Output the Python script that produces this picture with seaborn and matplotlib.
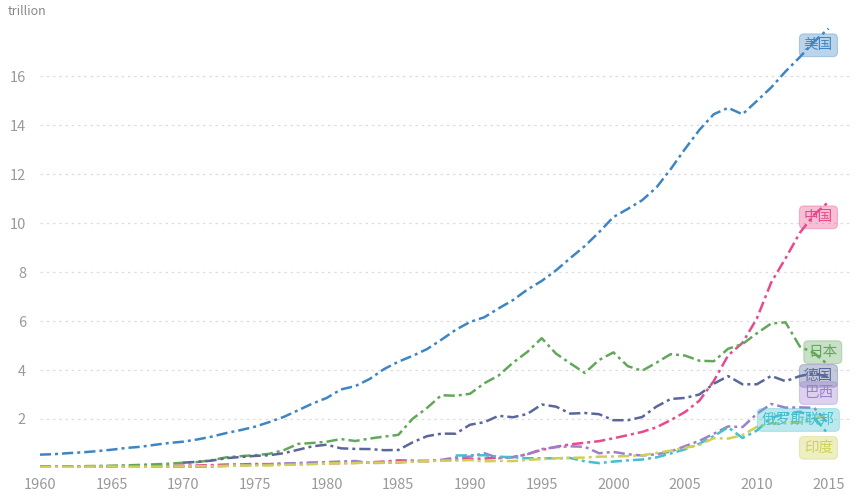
import numpy as np
import pandas as pd
import matplotlib
matplotlib.use("Agg")
import matplotlib.pyplot as plt
import seaborn as sns

# GDP, current US$ (trillion)
years = list(range(1960, 2016))

usa = [0.543, 0.563, 0.605, 0.638, 0.686, 0.744, 0.815, 0.862, 0.943, 1.019,
       1.073, 1.165, 1.280, 1.425, 1.545, 1.684, 1.873, 2.082, 2.352, 2.627,
       2.857, 3.207, 3.343, 3.634, 4.037, 4.339, 4.580, 4.855, 5.236, 5.642,
       5.963, 6.158, 6.520, 6.859, 7.287, 7.640, 8.073, 8.578, 9.063, 9.631,
       10.252, 10.582, 10.936, 11.458, 12.214, 13.037, 13.815, 14.452, 14.713, 14.449,
       14.992, 15.543, 16.197, 16.785, 17.420, 17.950]

china = [0.060, 0.050, 0.047, 0.051, 0.060, 0.070, 0.077, 0.073, 0.071, 0.080,
         0.093, 0.100, 0.114, 0.139, 0.144, 0.163, 0.154, 0.175, 0.150, 0.178,
         0.191, 0.196, 0.205, 0.230, 0.260, 0.309, 0.301, 0.273, 0.312, 0.348,
         0.361, 0.383, 0.427, 0.445, 0.564, 0.735, 0.864, 0.962, 1.029, 1.094,
         1.211, 1.339, 1.471, 1.660, 1.955, 2.286, 2.752, 3.552, 4.598, 5.110,
         6.101, 7.573, 8.561, 9.607, 10.350, 10.870]

japan = [0.044, 0.054, 0.061, 0.070, 0.082, 0.091, 0.106, 0.124, 0.147, 0.172,
         0.213, 0.240, 0.318, 0.432, 0.480, 0.520, 0.577, 0.722, 0.980, 1.020,
         1.070, 1.180, 1.100, 1.200, 1.280, 1.350, 2.010, 2.450, 2.970, 2.950,
         3.030, 3.460, 3.780, 4.300, 4.740, 5.300, 4.670, 4.270, 3.880, 4.410,
         4.720, 4.160, 3.970, 4.300, 4.650, 4.590, 4.380, 4.360, 4.870, 5.060,
         5.500, 5.900, 5.950, 4.960, 4.690, 4.200]

germany = [np.nan] * 10 + [
           0.216, 0.250, 0.300, 0.399, 0.446, 0.491, 0.519, 0.600, 0.740, 0.882,
           0.950, 0.801, 0.777, 0.771, 0.726, 0.732, 1.046, 1.298, 1.401, 1.398,
           1.765, 1.869, 2.131, 2.071, 2.206, 2.592, 2.503, 2.219, 2.244, 2.197,
           1.950, 1.950, 2.079, 2.506, 2.819, 2.861, 3.003, 3.440, 3.752, 3.418,
           3.417, 3.758, 3.544, 3.753, 3.870, 3.700]

brazil = [0.015, 0.015, 0.020, 0.023, 0.021, 0.022, 0.028, 0.031, 0.033, 0.037,
          0.042, 0.049, 0.058, 0.083, 0.105, 0.123, 0.152, 0.176, 0.201, 0.224,
          0.235, 0.263, 0.282, 0.203, 0.209, 0.223, 0.268, 0.294, 0.331, 0.425,
          0.462, 0.603, 0.401, 0.437, 0.558, 0.769, 0.850, 0.883, 0.864, 0.600,
          0.655, 0.559, 0.508, 0.558, 0.669, 0.892, 1.108, 1.397, 1.696, 1.667,
          2.209, 2.616, 2.465, 2.473, 2.456, 1.800]

russia = [np.nan] * 29 + [
          0.507, 0.517, 0.518, 0.460, 0.435, 0.395, 0.396, 0.392, 0.405, 0.271,
          0.196, 0.260, 0.307, 0.345, 0.430, 0.591, 0.764, 0.990, 1.300, 1.661,
          1.223, 1.525, 2.052, 2.210, 2.297, 2.064, 1.366]

india = [0.037, 0.039, 0.042, 0.048, 0.056, 0.059, 0.046, 0.050, 0.053, 0.058,
         0.062, 0.067, 0.071, 0.085, 0.100, 0.098, 0.103, 0.122, 0.137, 0.153,
         0.186, 0.194, 0.201, 0.219, 0.212, 0.233, 0.248, 0.280, 0.296, 0.296,
         0.321, 0.271, 0.288, 0.279, 0.328, 0.360, 0.393, 0.415, 0.421, 0.459,
         0.468, 0.485, 0.515, 0.608, 0.709, 0.820, 0.940, 1.217, 1.199, 1.341,
         1.676, 1.823, 1.828, 1.857, 2.039, 2.100]

countries = ["美国", "中国", "日本", "德国", "巴西", "俄罗斯联邦", "印度"]
series = [usa, china, japan, germany, brazil, russia, india]
colors = ["#3e86c3", "#e84a8c", "#62a85a", "#5a679a", "#9d7fcc", "#43c0cf", "#d0d055"]

# end-of-line label anchors (year, value)
label_x = [2014.3, 2014.3, 2014.6, 2014.3, 2014.3, 2012.9, 2014.3]
label_y = [17.27, 10.24, 4.73, 3.76, 3.06, 1.96, 0.82]

rows = []
for name, vals in zip(countries, series):
    for yr, v in zip(years, vals):
        if not np.isnan(v):
            rows.append({"year": yr, "gdp": v, "country": name})
df = pd.DataFrame(rows)

sns.set_style("white")
plt.rcParams["font.family"] = ["Noto Sans CJK SC", "DejaVu Sans"]

fig = plt.figure(figsize=(8.65, 5.01), dpi=100)
ax = fig.add_axes([0.046, 0.066, 0.94, 0.894])

palette = dict(zip(countries, colors))
dash = (4.5, 1.6, 1.2, 1.6)
sns.lineplot(data=df, x="year", y="gdp", hue="country", style="country",
             hue_order=countries, style_order=countries, palette=palette,
             dashes={c: dash for c in countries}, linewidth=1.8,
             legend=False, ax=ax)

ax.set_xlim(1960, 2016.7)
ax.set_ylim(0, 18.3)
ax.set_xticks(range(1960, 2016, 5))
ax.set_yticks(range(2, 17, 2))
ax.yaxis.grid(True, color="#dddddd", linestyle=(0, (2, 3)), linewidth=0.9)
ax.set_axisbelow(True)
for s in ax.spines.values():
    s.set_visible(False)
ax.tick_params(axis="x", colors="#e0e0e0", length=3, width=1, labelcolor="#9a9a9a",
               labelsize=10.5, pad=4)
ax.tick_params(axis="y", length=0, labelcolor="#9a9a9a", labelsize=10.5, pad=10)
ax.set_xlabel("")
ax.set_ylabel("")

for name, c, lx, ly in zip(countries, colors, label_x, label_y):
    ax.text(lx, ly, name, color=c, fontsize=10.5, ha="center", va="center",
            bbox=dict(boxstyle="round,pad=0.3", facecolor=c, alpha=0.35,
                      edgecolor=c, linewidth=0.8))

fig.text(0.009, 0.978, "trillion", fontsize=9, color="#888888", ha="left", va="center")

fig.savefig("out.png", dpi=100)
